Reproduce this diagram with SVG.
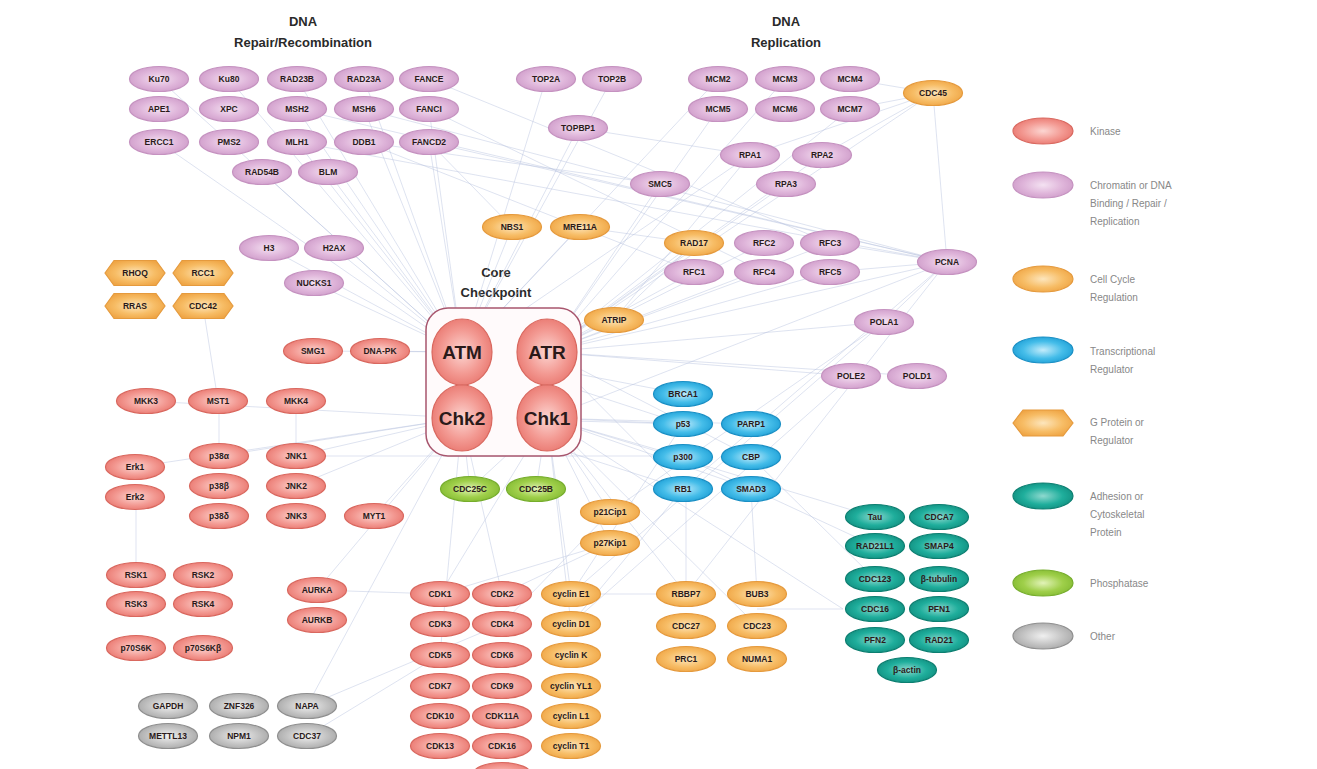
<svg xmlns="http://www.w3.org/2000/svg" width="1317" height="769" viewBox="0 0 1317 769">
<defs>
<radialGradient id="gK" cx="50%" cy="50%" r="55%"><stop offset="0" stop-color="#fcd6d2"/><stop offset="0.6" stop-color="#f39a93"/><stop offset="1" stop-color="#e9776f"/></radialGradient>
<radialGradient id="gP" cx="50%" cy="50%" r="55%"><stop offset="0" stop-color="#f4e2f2"/><stop offset="0.6" stop-color="#dfb5da"/><stop offset="1" stop-color="#cf9dca"/></radialGradient>
<radialGradient id="gO" cx="50%" cy="50%" r="55%"><stop offset="0" stop-color="#fde6bd"/><stop offset="0.6" stop-color="#f7bd66"/><stop offset="1" stop-color="#efa545"/></radialGradient>
<radialGradient id="gB" cx="50%" cy="50%" r="55%"><stop offset="0" stop-color="#c4ecfb"/><stop offset="0.6" stop-color="#45bde9"/><stop offset="1" stop-color="#1e9fd6"/></radialGradient>
<radialGradient id="gT" cx="50%" cy="50%" r="55%"><stop offset="0" stop-color="#8fd9cf"/><stop offset="0.6" stop-color="#1fae9c"/><stop offset="1" stop-color="#118f80"/></radialGradient>
<radialGradient id="gG" cx="50%" cy="50%" r="55%"><stop offset="0" stop-color="#e2f3b8"/><stop offset="0.6" stop-color="#9fcf4a"/><stop offset="1" stop-color="#84bb33"/></radialGradient>
<radialGradient id="gY" cx="50%" cy="50%" r="55%"><stop offset="0" stop-color="#f0f0f0"/><stop offset="0.6" stop-color="#c4c4c4"/><stop offset="1" stop-color="#a8a8a8"/></radialGradient>
<ellipse id="el" cx="0" cy="0" rx="29.5" ry="12.5"/>
<polygon id="hx" points="-30,0 -21,-12.5 21,-12.5 30,0 21,12.5 -21,12.5"/>
</defs>
<style>
.k{fill:url(#gK);stroke:#d9685f;stroke-width:1.2}
.p{fill:url(#gP);stroke:#c592c0;stroke-width:1.2}
.o{fill:url(#gO);stroke:#e59a3d;stroke-width:1.2}
.b{fill:url(#gB);stroke:#1a8fc4;stroke-width:1.2}
.t{fill:url(#gT);stroke:#0d7f71;stroke-width:1.2}
.g{fill:url(#gG);stroke:#76ad2c;stroke-width:1.2}
.y{fill:url(#gY);stroke:#8f8f8f;stroke-width:1.2}
text{font-family:"Liberation Sans",Arial,sans-serif}
.n text{font-size:8.5px;font-weight:bold;fill:#2a1a1a;text-anchor:middle}
.n text.big{font-size:19px;font-weight:bold;fill:#2a1a1a;text-anchor:middle}
.ttl{font-size:13px;font-weight:bold;fill:#2a2a2a;text-anchor:middle}
.lg{font-size:10px;fill:#888}
#edges line{stroke:#b3bfdc;stroke-width:0.8;stroke-opacity:0.55}
</style>
<rect width="1317" height="769" fill="#ffffff"/>

<g id="titles">
<text class="ttl" x="303" y="26">DNA</text>
<text class="ttl" x="303" y="47">Repair/Recombination</text>
<text class="ttl" x="786" y="26">DNA</text>
<text class="ttl" x="786" y="47">Replication</text>
<text class="ttl" x="496" y="277">Core</text>
<text class="ttl" x="496" y="297">Checkpoint</text>
</g>

<g id="edges">
<line x1="462" y1="352" x2="159" y2="79"/>
<line x1="462" y1="352" x2="229" y2="79"/>
<line x1="462" y1="352" x2="297" y2="79"/>
<line x1="462" y1="352" x2="364" y2="79"/>
<line x1="462" y1="352" x2="297" y2="109"/>
<line x1="462" y1="352" x2="364" y2="109"/>
<line x1="462" y1="352" x2="297" y2="142"/>
<line x1="462" y1="352" x2="429" y2="142"/>
<line x1="462" y1="352" x2="429" y2="109"/>
<line x1="462" y1="352" x2="328" y2="172"/>
<line x1="462" y1="352" x2="262" y2="172"/>
<line x1="462" y1="352" x2="159" y2="142"/>
<line x1="462" y1="352" x2="269" y2="248"/>
<line x1="462" y1="352" x2="334" y2="248"/>
<line x1="462" y1="352" x2="512" y2="227"/>
<line x1="462" y1="352" x2="580" y2="227"/>
<line x1="462" y1="352" x2="313" y2="351"/>
<line x1="462" y1="352" x2="380" y2="351"/>
<line x1="462" y1="352" x2="578" y2="128"/>
<line x1="462" y1="352" x2="546" y2="79"/>
<line x1="462" y1="352" x2="612" y2="79"/>
<line x1="462" y1="352" x2="718" y2="79"/>
<line x1="462" y1="352" x2="750" y2="155"/>
<line x1="462" y1="352" x2="683" y2="394"/>
<line x1="462" y1="352" x2="683" y2="424"/>
<line x1="462" y1="352" x2="314" y2="283"/>
<line x1="547" y1="352" x2="614" y2="320"/>
<line x1="547" y1="352" x2="694" y2="243"/>
<line x1="547" y1="352" x2="764" y2="243"/>
<line x1="547" y1="352" x2="830" y2="243"/>
<line x1="547" y1="352" x2="694" y2="272"/>
<line x1="547" y1="352" x2="764" y2="272"/>
<line x1="547" y1="352" x2="830" y2="272"/>
<line x1="547" y1="352" x2="822" y2="155"/>
<line x1="547" y1="352" x2="786" y2="184"/>
<line x1="547" y1="352" x2="850" y2="109"/>
<line x1="547" y1="352" x2="785" y2="79"/>
<line x1="547" y1="352" x2="718" y2="109"/>
<line x1="547" y1="352" x2="947" y2="262"/>
<line x1="547" y1="352" x2="884" y2="322"/>
<line x1="547" y1="352" x2="933" y2="93"/>
<line x1="547" y1="352" x2="660" y2="184"/>
<line x1="547" y1="352" x2="851" y2="376"/>
<line x1="547" y1="352" x2="917" y2="376"/>
<line x1="547" y1="352" x2="683" y2="489"/>
<line x1="547" y1="352" x2="751" y2="457"/>
<line x1="547" y1="418" x2="683" y2="424"/>
<line x1="547" y1="418" x2="751" y2="424"/>
<line x1="547" y1="418" x2="683" y2="457"/>
<line x1="547" y1="418" x2="751" y2="489"/>
<line x1="547" y1="418" x2="470" y2="489"/>
<line x1="547" y1="418" x2="536" y2="489"/>
<line x1="547" y1="418" x2="610" y2="512"/>
<line x1="547" y1="418" x2="610" y2="543"/>
<line x1="547" y1="418" x2="440" y2="594"/>
<line x1="547" y1="418" x2="571" y2="594"/>
<line x1="547" y1="418" x2="571" y2="624"/>
<line x1="547" y1="418" x2="686" y2="594"/>
<line x1="547" y1="418" x2="757" y2="626"/>
<line x1="547" y1="418" x2="843" y2="609"/>
<line x1="547" y1="418" x2="875" y2="517"/>
<line x1="547" y1="418" x2="947" y2="262"/>
<line x1="462" y1="418" x2="470" y2="489"/>
<line x1="462" y1="418" x2="296" y2="456"/>
<line x1="462" y1="418" x2="296" y2="486"/>
<line x1="462" y1="418" x2="146" y2="401"/>
<line x1="462" y1="418" x2="219" y2="456"/>
<line x1="462" y1="418" x2="135" y2="467"/>
<line x1="462" y1="418" x2="317" y2="590"/>
<line x1="462" y1="418" x2="502" y2="594"/>
<line x1="462" y1="418" x2="440" y2="655"/>
<line x1="462" y1="418" x2="374" y2="516"/>
<line x1="462" y1="418" x2="307" y2="706"/>
<line x1="462" y1="418" x2="683" y2="489"/>
<line x1="462" y1="418" x2="683" y2="424"/>
<line x1="296" y1="456" x2="683" y2="456"/>
<line x1="947" y1="262" x2="830" y2="243"/>
<line x1="947" y1="262" x2="830" y2="272"/>
<line x1="947" y1="262" x2="884" y2="322"/>
<line x1="947" y1="262" x2="933" y2="93"/>
<line x1="947" y1="262" x2="429" y2="142"/>
<line x1="947" y1="262" x2="364" y2="109"/>
<line x1="947" y1="262" x2="297" y2="142"/>
<line x1="947" y1="262" x2="297" y2="109"/>
<line x1="947" y1="262" x2="686" y2="594"/>
<line x1="947" y1="262" x2="683" y2="489"/>
<line x1="933" y1="93" x2="850" y2="79"/>
<line x1="933" y1="93" x2="850" y2="109"/>
<line x1="933" y1="93" x2="822" y2="155"/>
<line x1="933" y1="93" x2="750" y2="155"/>
<line x1="830" y1="243" x2="429" y2="79"/>
<line x1="764" y1="272" x2="429" y2="109"/>
<line x1="694" y1="272" x2="364" y2="142"/>
<line x1="884" y1="322" x2="610" y2="512"/>
<line x1="884" y1="322" x2="571" y2="594"/>
<line x1="851" y1="376" x2="571" y2="624"/>
<line x1="203" y1="306" x2="218" y2="401"/>
<line x1="296" y1="401" x2="296" y2="456"/>
<line x1="219" y1="401" x2="219" y2="456"/>
<line x1="136" y1="497" x2="136" y2="575"/>
<line x1="317" y1="590" x2="440" y2="594"/>
<line x1="843" y1="609" x2="757" y2="609"/>
<line x1="686" y1="489" x2="686" y2="594"/>
<line x1="751" y1="489" x2="757" y2="594"/>
<line x1="610" y1="543" x2="502" y2="594"/>
<line x1="610" y1="543" x2="440" y2="594"/>
<line x1="610" y1="512" x2="502" y2="624"/>
<line x1="307" y1="706" x2="502" y2="624"/>
<line x1="307" y1="736" x2="440" y2="655"/>
<line x1="571" y1="594" x2="686" y2="594"/>
<line x1="683" y1="424" x2="571" y2="594"/>
<line x1="683" y1="489" x2="571" y2="624"/>
<line x1="683" y1="457" x2="875" y2="546"/>
<line x1="751" y1="457" x2="875" y2="579"/>
<line x1="660" y1="184" x2="364" y2="142"/>
<line x1="578" y1="128" x2="750" y2="155"/>
<line x1="512" y1="227" x2="429" y2="142"/>
<line x1="580" y1="227" x2="694" y2="243"/>
<line x1="614" y1="320" x2="694" y2="243"/>
<line x1="614" y1="320" x2="750" y2="155"/>
</g>

<g id="core-box"><rect x="426" y="308" width="155" height="148" rx="22" fill="#fffafb" stroke="#a8566e" stroke-width="1.5"/></g>
<g id="n-ATM" class="n" transform="translate(462,352)"><ellipse rx="30" ry="33" class="k"/><text class="big" y="7">ATM</text></g>
<g id="n-ATR" class="n" transform="translate(547,352)"><ellipse rx="30" ry="33" class="k"/><text class="big" y="7">ATR</text></g>
<g id="n-Chk2" class="n" transform="translate(462,418)"><ellipse rx="30" ry="33" class="k"/><text class="big" y="7">Chk2</text></g>
<g id="n-Chk1" class="n" transform="translate(547,418)"><ellipse rx="30" ry="33" class="k"/><text class="big" y="7">Chk1</text></g>

<!-- DNA repair pinks -->
<g id="n-Ku70" class="n" transform="translate(159,79)"><use href="#el" class="p"/><text y="3">Ku70</text></g>
<g id="n-Ku80" class="n" transform="translate(229,79)"><use href="#el" class="p"/><text y="3">Ku80</text></g>
<g id="n-RAD23B" class="n" transform="translate(297,79)"><use href="#el" class="p"/><text y="3">RAD23B</text></g>
<g id="n-RAD23A" class="n" transform="translate(364,79)"><use href="#el" class="p"/><text y="3">RAD23A</text></g>
<g id="n-FANCE" class="n" transform="translate(429,79)"><use href="#el" class="p"/><text y="3">FANCE</text></g>
<g id="n-APE1" class="n" transform="translate(159,109)"><use href="#el" class="p"/><text y="3">APE1</text></g>
<g id="n-XPC" class="n" transform="translate(229,109)"><use href="#el" class="p"/><text y="3">XPC</text></g>
<g id="n-MSH2" class="n" transform="translate(297,109)"><use href="#el" class="p"/><text y="3">MSH2</text></g>
<g id="n-MSH6" class="n" transform="translate(364,109)"><use href="#el" class="p"/><text y="3">MSH6</text></g>
<g id="n-FANCI" class="n" transform="translate(429,109)"><use href="#el" class="p"/><text y="3">FANCI</text></g>
<g id="n-ERCC1" class="n" transform="translate(159,142)"><use href="#el" class="p"/><text y="3">ERCC1</text></g>
<g id="n-PMS2" class="n" transform="translate(229,142)"><use href="#el" class="p"/><text y="3">PMS2</text></g>
<g id="n-MLH1" class="n" transform="translate(297,142)"><use href="#el" class="p"/><text y="3">MLH1</text></g>
<g id="n-DDB1" class="n" transform="translate(364,142)"><use href="#el" class="p"/><text y="3">DDB1</text></g>
<g id="n-FANCD2" class="n" transform="translate(429,142)"><use href="#el" class="p"/><text y="3">FANCD2</text></g>
<g id="n-RAD54B" class="n" transform="translate(262,172)"><use href="#el" class="p"/><text y="3">RAD54B</text></g>
<g id="n-BLM" class="n" transform="translate(328,172)"><use href="#el" class="p"/><text y="3">BLM</text></g>
<g id="n-TOP2A" class="n" transform="translate(546,79)"><use href="#el" class="p"/><text y="3">TOP2A</text></g>
<g id="n-TOP2B" class="n" transform="translate(612,79)"><use href="#el" class="p"/><text y="3">TOP2B</text></g>
<g id="n-TOPBP1" class="n" transform="translate(578,128)"><use href="#el" class="p"/><text y="3">TOPBP1</text></g>

<!-- DNA replication pinks -->
<g id="n-MCM2" class="n" transform="translate(718,79)"><use href="#el" class="p"/><text y="3">MCM2</text></g>
<g id="n-MCM3" class="n" transform="translate(785,79)"><use href="#el" class="p"/><text y="3">MCM3</text></g>
<g id="n-MCM4" class="n" transform="translate(850,79)"><use href="#el" class="p"/><text y="3">MCM4</text></g>
<g id="n-MCM5" class="n" transform="translate(718,109)"><use href="#el" class="p"/><text y="3">MCM5</text></g>
<g id="n-MCM6" class="n" transform="translate(785,109)"><use href="#el" class="p"/><text y="3">MCM6</text></g>
<g id="n-MCM7" class="n" transform="translate(850,109)"><use href="#el" class="p"/><text y="3">MCM7</text></g>
<g id="n-CDC45" class="n" transform="translate(933,93)"><use href="#el" class="o"/><text y="3">CDC45</text></g>
<g id="n-RPA1" class="n" transform="translate(750,155)"><use href="#el" class="p"/><text y="3">RPA1</text></g>
<g id="n-RPA2" class="n" transform="translate(822,155)"><use href="#el" class="p"/><text y="3">RPA2</text></g>
<g id="n-RPA3" class="n" transform="translate(786,184)"><use href="#el" class="p"/><text y="3">RPA3</text></g>
<g id="n-SMC5" class="n" transform="translate(660,184)"><use href="#el" class="p"/><text y="3">SMC5</text></g>
<g id="n-NBS1" class="n" transform="translate(512,227)"><use href="#el" class="o"/><text y="3">NBS1</text></g>
<g id="n-MRE11A" class="n" transform="translate(580,227)"><use href="#el" class="o"/><text y="3">MRE11A</text></g>
<g id="n-RAD17" class="n" transform="translate(694,243)"><use href="#el" class="o"/><text y="3">RAD17</text></g>
<g id="n-RFC2" class="n" transform="translate(764,243)"><use href="#el" class="p"/><text y="3">RFC2</text></g>
<g id="n-RFC3" class="n" transform="translate(830,243)"><use href="#el" class="p"/><text y="3">RFC3</text></g>
<g id="n-RFC1" class="n" transform="translate(694,272)"><use href="#el" class="p"/><text y="3">RFC1</text></g>
<g id="n-RFC4" class="n" transform="translate(764,272)"><use href="#el" class="p"/><text y="3">RFC4</text></g>
<g id="n-RFC5" class="n" transform="translate(830,272)"><use href="#el" class="p"/><text y="3">RFC5</text></g>
<g id="n-PCNA" class="n" transform="translate(947,262)"><use href="#el" class="p"/><text y="3">PCNA</text></g>
<g id="n-POLA1" class="n" transform="translate(884,322)"><use href="#el" class="p"/><text y="3">POLA1</text></g>
<g id="n-POLE2" class="n" transform="translate(851,376)"><use href="#el" class="p"/><text y="3">POLE2</text></g>
<g id="n-POLD1" class="n" transform="translate(917,376)"><use href="#el" class="p"/><text y="3">POLD1</text></g>
<g id="n-ATRIP" class="n" transform="translate(614,320)"><use href="#el" class="o"/><text y="3">ATRIP</text></g>

<!-- left middle -->
<g id="n-H3" class="n" transform="translate(269,248)"><use href="#el" class="p"/><text y="3">H3</text></g>
<g id="n-H2AX" class="n" transform="translate(334,248)"><use href="#el" class="p"/><text y="3">H2AX</text></g>
<g id="n-NUCKS1" class="n" transform="translate(314,283)"><use href="#el" class="p"/><text y="3">NUCKS1</text></g>
<g id="n-RHOQ" class="n" transform="translate(135,273)"><use href="#hx" class="o"/><text y="3">RHOQ</text></g>
<g id="n-RCC1" class="n" transform="translate(203,273)"><use href="#hx" class="o"/><text y="3">RCC1</text></g>
<g id="n-RRAS" class="n" transform="translate(135,306)"><use href="#hx" class="o"/><text y="3">RRAS</text></g>
<g id="n-CDC42" class="n" transform="translate(203,306)"><use href="#hx" class="o"/><text y="3">CDC42</text></g>
<g id="n-SMG1" class="n" transform="translate(313,351)"><use href="#el" class="k"/><text y="3">SMG1</text></g>
<g id="n-DNA-PK" class="n" transform="translate(380,351)"><use href="#el" class="k"/><text y="3">DNA-PK</text></g>
<g id="n-MKK3" class="n" transform="translate(146,401)"><use href="#el" class="k"/><text y="3">MKK3</text></g>
<g id="n-MST1" class="n" transform="translate(218,401)"><use href="#el" class="k"/><text y="3">MST1</text></g>
<g id="n-MKK4" class="n" transform="translate(296,401)"><use href="#el" class="k"/><text y="3">MKK4</text></g>
<g id="n-p38a" class="n" transform="translate(219,456)"><use href="#el" class="k"/><text y="3">p38α</text></g>
<g id="n-p38b" class="n" transform="translate(219,486)"><use href="#el" class="k"/><text y="3">p38β</text></g>
<g id="n-p38d" class="n" transform="translate(219,516)"><use href="#el" class="k"/><text y="3">p38δ</text></g>
<g id="n-JNK1" class="n" transform="translate(296,456)"><use href="#el" class="k"/><text y="3">JNK1</text></g>
<g id="n-JNK2" class="n" transform="translate(296,486)"><use href="#el" class="k"/><text y="3">JNK2</text></g>
<g id="n-JNK3" class="n" transform="translate(296,516)"><use href="#el" class="k"/><text y="3">JNK3</text></g>
<g id="n-MYT1" class="n" transform="translate(374,516)"><use href="#el" class="k"/><text y="3">MYT1</text></g>
<g id="n-Erk1" class="n" transform="translate(135,467)"><use href="#el" class="k"/><text y="3">Erk1</text></g>
<g id="n-Erk2" class="n" transform="translate(135,497)"><use href="#el" class="k"/><text y="3">Erk2</text></g>
<g id="n-CDC25C" class="n" transform="translate(470,489)"><use href="#el" class="g"/><text y="3">CDC25C</text></g>
<g id="n-CDC25B" class="n" transform="translate(536,489)"><use href="#el" class="g"/><text y="3">CDC25B</text></g>

<!-- transcriptional -->
<g id="n-BRCA1" class="n" transform="translate(683,394)"><use href="#el" class="b"/><text y="3">BRCA1</text></g>
<g id="n-p53" class="n" transform="translate(683,424)"><use href="#el" class="b"/><text y="3">p53</text></g>
<g id="n-PARP1" class="n" transform="translate(751,424)"><use href="#el" class="b"/><text y="3">PARP1</text></g>
<g id="n-p300" class="n" transform="translate(683,457)"><use href="#el" class="b"/><text y="3">p300</text></g>
<g id="n-CBP" class="n" transform="translate(751,457)"><use href="#el" class="b"/><text y="3">CBP</text></g>
<g id="n-RB1" class="n" transform="translate(683,489)"><use href="#el" class="b"/><text y="3">RB1</text></g>
<g id="n-SMAD3" class="n" transform="translate(751,489)"><use href="#el" class="b"/><text y="3">SMAD3</text></g>
<g id="n-p21Cip1" class="n" transform="translate(610,512)"><use href="#el" class="o"/><text y="3">p21Cip1</text></g>
<g id="n-p27Kip1" class="n" transform="translate(610,543)"><use href="#el" class="o"/><text y="3">p27Kip1</text></g>

<!-- teal -->
<g id="n-Tau" class="n" transform="translate(875,517)"><use href="#el" class="t"/><text y="3">Tau</text></g>
<g id="n-CDCA7" class="n" transform="translate(939,517)"><use href="#el" class="t"/><text y="3">CDCA7</text></g>
<g id="n-RAD21L1" class="n" transform="translate(875,546)"><use href="#el" class="t"/><text y="3">RAD21L1</text></g>
<g id="n-SMAP4" class="n" transform="translate(939,546)"><use href="#el" class="t"/><text y="3">SMAP4</text></g>
<g id="n-CDC123" class="n" transform="translate(875,579)"><use href="#el" class="t"/><text y="3">CDC123</text></g>
<g id="n-b-tubulin" class="n" transform="translate(939,579)"><use href="#el" class="t"/><text y="3">β-tubulin</text></g>
<g id="n-CDC16" class="n" transform="translate(875,609)"><use href="#el" class="t"/><text y="3">CDC16</text></g>
<g id="n-PFN1" class="n" transform="translate(939,609)"><use href="#el" class="t"/><text y="3">PFN1</text></g>
<g id="n-PFN2" class="n" transform="translate(875,640)"><use href="#el" class="t"/><text y="3">PFN2</text></g>
<g id="n-RAD21" class="n" transform="translate(939,640)"><use href="#el" class="t"/><text y="3">RAD21</text></g>
<g id="n-b-actin" class="n" transform="translate(907,670)"><use href="#el" class="t"/><text y="3">β-actin</text></g>

<!-- bottom left -->
<g id="n-RSK1" class="n" transform="translate(136,575)"><use href="#el" class="k"/><text y="3">RSK1</text></g>
<g id="n-RSK2" class="n" transform="translate(203,575)"><use href="#el" class="k"/><text y="3">RSK2</text></g>
<g id="n-RSK3" class="n" transform="translate(136,604)"><use href="#el" class="k"/><text y="3">RSK3</text></g>
<g id="n-RSK4" class="n" transform="translate(203,604)"><use href="#el" class="k"/><text y="3">RSK4</text></g>
<g id="n-p70S6K" class="n" transform="translate(136,648)"><use href="#el" class="k"/><text y="3">p70S6K</text></g>
<g id="n-p70S6Kb" class="n" transform="translate(203,648)"><use href="#el" class="k"/><text y="3">p70S6Kβ</text></g>
<g id="n-AURKA" class="n" transform="translate(317,590)"><use href="#el" class="k"/><text y="3">AURKA</text></g>
<g id="n-AURKB" class="n" transform="translate(317,620)"><use href="#el" class="k"/><text y="3">AURKB</text></g>
<g id="n-GAPDH" class="n" transform="translate(168,706)"><use href="#el" class="y"/><text y="3">GAPDH</text></g>
<g id="n-ZNF326" class="n" transform="translate(239,706)"><use href="#el" class="y"/><text y="3">ZNF326</text></g>
<g id="n-NAPA" class="n" transform="translate(307,706)"><use href="#el" class="y"/><text y="3">NAPA</text></g>
<g id="n-METTL13" class="n" transform="translate(168,736)"><use href="#el" class="y"/><text y="3">METTL13</text></g>
<g id="n-NPM1" class="n" transform="translate(239,736)"><use href="#el" class="y"/><text y="3">NPM1</text></g>
<g id="n-CDC37" class="n" transform="translate(307,736)"><use href="#el" class="y"/><text y="3">CDC37</text></g>

<!-- CDKs / cyclins -->
<g id="n-CDK1" class="n" transform="translate(440,594)"><use href="#el" class="k"/><text y="3">CDK1</text></g>
<g id="n-CDK2" class="n" transform="translate(502,594)"><use href="#el" class="k"/><text y="3">CDK2</text></g>
<g id="n-cyclinE1" class="n" transform="translate(571,594)"><use href="#el" class="o"/><text y="3">cyclin E1</text></g>
<g id="n-CDK3" class="n" transform="translate(440,624)"><use href="#el" class="k"/><text y="3">CDK3</text></g>
<g id="n-CDK4" class="n" transform="translate(502,624)"><use href="#el" class="k"/><text y="3">CDK4</text></g>
<g id="n-cyclinD1" class="n" transform="translate(571,624)"><use href="#el" class="o"/><text y="3">cyclin D1</text></g>
<g id="n-CDK5" class="n" transform="translate(440,655)"><use href="#el" class="k"/><text y="3">CDK5</text></g>
<g id="n-CDK6" class="n" transform="translate(502,655)"><use href="#el" class="k"/><text y="3">CDK6</text></g>
<g id="n-cyclinK" class="n" transform="translate(571,655)"><use href="#el" class="o"/><text y="3">cyclin K</text></g>
<g id="n-CDK7" class="n" transform="translate(440,686)"><use href="#el" class="k"/><text y="3">CDK7</text></g>
<g id="n-CDK9" class="n" transform="translate(502,686)"><use href="#el" class="k"/><text y="3">CDK9</text></g>
<g id="n-cyclinYL1" class="n" transform="translate(571,686)"><use href="#el" class="o"/><text y="3">cyclin YL1</text></g>
<g id="n-CDK10" class="n" transform="translate(440,716)"><use href="#el" class="k"/><text y="3">CDK10</text></g>
<g id="n-CDK11A" class="n" transform="translate(502,716)"><use href="#el" class="k"/><text y="3">CDK11A</text></g>
<g id="n-cyclinL1" class="n" transform="translate(571,716)"><use href="#el" class="o"/><text y="3">cyclin L1</text></g>
<g id="n-CDK13" class="n" transform="translate(440,746)"><use href="#el" class="k"/><text y="3">CDK13</text></g>
<g id="n-CDK16" class="n" transform="translate(502,746)"><use href="#el" class="k"/><text y="3">CDK16</text></g>
<g id="n-cyclinT1" class="n" transform="translate(571,746)"><use href="#el" class="o"/><text y="3">cyclin T1</text></g>
<g id="n-CDK-partial" class="n" transform="translate(502,775)"><use href="#el" class="k"/></g>
<g id="n-RBBP7" class="n" transform="translate(686,594)"><use href="#el" class="o"/><text y="3">RBBP7</text></g>
<g id="n-BUB3" class="n" transform="translate(757,594)"><use href="#el" class="o"/><text y="3">BUB3</text></g>
<g id="n-CDC27" class="n" transform="translate(686,626)"><use href="#el" class="o"/><text y="3">CDC27</text></g>
<g id="n-CDC23" class="n" transform="translate(757,626)"><use href="#el" class="o"/><text y="3">CDC23</text></g>
<g id="n-PRC1" class="n" transform="translate(686,659)"><use href="#el" class="o"/><text y="3">PRC1</text></g>
<g id="n-NUMA1" class="n" transform="translate(757,659)"><use href="#el" class="o"/><text y="3">NUMA1</text></g>

<!-- legend -->
<g id="legend">
<ellipse cx="1043" cy="131" rx="30" ry="13" class="k"/>
<text class="lg" x="1090" y="135">Kinase</text>
<ellipse cx="1043" cy="185" rx="30" ry="13" class="p"/>
<text class="lg" x="1090" y="189">Chromatin or DNA</text>
<text class="lg" x="1090" y="207">Binding / Repair /</text>
<text class="lg" x="1090" y="225">Replication</text>
<ellipse cx="1043" cy="279" rx="30" ry="13" class="o"/>
<text class="lg" x="1090" y="283">Cell Cycle</text>
<text class="lg" x="1090" y="301">Regulation</text>
<ellipse cx="1043" cy="350" rx="30" ry="13" class="b"/>
<text class="lg" x="1090" y="355">Transcriptional</text>
<text class="lg" x="1090" y="373">Regulator</text>
<polygon points="1013,423 1023,410 1063,410 1073,423 1063,436 1023,436" class="o"/>
<text class="lg" x="1090" y="426">G Protein or</text>
<text class="lg" x="1090" y="444">Regulator</text>
<ellipse cx="1043" cy="496" rx="30" ry="13" class="t"/>
<text class="lg" x="1090" y="500">Adhesion or</text>
<text class="lg" x="1090" y="518">Cytoskeletal</text>
<text class="lg" x="1090" y="536">Protein</text>
<ellipse cx="1043" cy="583" rx="30" ry="13" class="g"/>
<text class="lg" x="1090" y="587">Phosphatase</text>
<ellipse cx="1043" cy="636" rx="30" ry="13" class="y"/>
<text class="lg" x="1090" y="640">Other</text>
</g>
</svg>
